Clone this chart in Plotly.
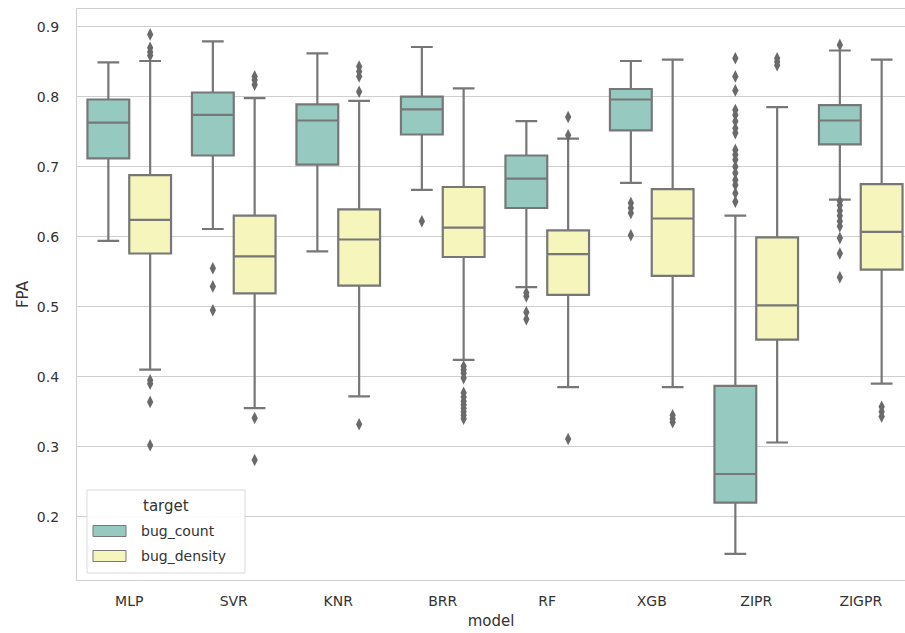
import plotly.graph_objects as go

# FPA distributions per model, split by target
models = ["MLP", "SVR", "KNR", "BRR", "RF", "XGB", "ZIPR", "ZIGPR"]

# bug_count box statistics
count_lower = [0.594, 0.611, 0.579, 0.667, 0.528, 0.677, 0.147, 0.653]
count_q1 = [0.712, 0.716, 0.703, 0.746, 0.641, 0.752, 0.220, 0.732]
count_median = [0.763, 0.774, 0.766, 0.782, 0.683, 0.796, 0.261, 0.766]
count_q3 = [0.796, 0.806, 0.789, 0.800, 0.716, 0.811, 0.387, 0.788]
count_upper = [0.849, 0.879, 0.862, 0.871, 0.765, 0.851, 0.630, 0.866]
count_outliers = [
    [],
    [0.555, 0.529, 0.495],
    [],
    [0.622],
    [0.520, 0.515, 0.492, 0.482],
    [0.648, 0.641, 0.634, 0.602],
    [0.855, 0.829, 0.809, 0.781, 0.774, 0.765, 0.755, 0.748, 0.724,
     0.717, 0.710, 0.700, 0.691, 0.681, 0.674, 0.662, 0.650],
    [0.874, 0.651, 0.645, 0.637, 0.630, 0.622, 0.615, 0.598, 0.576, 0.542],
]

# bug_density box statistics
density_lower = [0.410, 0.355, 0.372, 0.424, 0.385, 0.385, 0.306, 0.390]
density_q1 = [0.576, 0.519, 0.530, 0.571, 0.517, 0.544, 0.453, 0.553]
density_median = [0.624, 0.572, 0.596, 0.613, 0.575, 0.626, 0.502, 0.607]
density_q3 = [0.688, 0.630, 0.639, 0.671, 0.609, 0.668, 0.599, 0.675]
density_upper = [0.851, 0.798, 0.794, 0.812, 0.740, 0.853, 0.785, 0.853]
density_outliers = [
    [0.889, 0.870, 0.864, 0.859, 0.395, 0.390, 0.364, 0.302],
    [0.829, 0.824, 0.817, 0.341, 0.281],
    [0.843, 0.836, 0.829, 0.807, 0.332],
    [0.415, 0.410, 0.405, 0.398, 0.377, 0.371, 0.365, 0.360, 0.355, 0.350, 0.345, 0.340],
    [0.771, 0.745, 0.311],
    [0.345, 0.340, 0.335],
    [0.855, 0.850, 0.845],
    [0.357, 0.350, 0.343],
]

targets = ["bug_count", "bug_density"]
fill_colors = {"bug_count": "#96cac1", "bug_density": "#f5f5bc"}
line_gray = "#777777"
flier_gray = "#6a6a6a"
text_color = "#333333"
grid_color = "#cfcfcf"

series = {
    "bug_count": (count_lower, count_q1, count_median, count_q3, count_upper, count_outliers),
    "bug_density": (density_lower, density_q1, density_median, density_q3, density_upper, density_outliers),
}
offsets = {"bug_count": -0.2, "bug_density": 0.2}

fig = go.Figure()
for t in targets:
    lo, q1, med, q3, hi, outs = series[t]
    xs = [i + offsets[t] for i in range(len(models))]
    fig.add_trace(go.Box(
        x=xs, q1=q1, median=med, q3=q3, lowerfence=lo, upperfence=hi,
        width=0.4, whiskerwidth=0.52,
        fillcolor=fill_colors[t],
        line=dict(color=line_gray, width=2.2),
        boxpoints=False, name=t, showlegend=False, hoverinfo="skip",
    ))
    ox, oy = [], []
    for i, vals in enumerate(outs):
        for v in vals:
            ox.append(i + offsets[t])
            oy.append(v)
    fig.add_trace(go.Scatter(
        x=ox, y=oy, mode="markers",
        marker=dict(symbol="diamond-tall", size=9, color=flier_gray,
                    line=dict(width=0)),
        showlegend=False, hoverinfo="skip",
    ))

# legend box
shapes = [
    dict(type="rect", xref="paper", yref="paper",
         x0=(87 - 77) / 828, x1=(245 - 77) / 828,
         y0=(580 - 573) / 571, y1=(580 - 490) / 571,
         line=dict(color="#d9d9d9", width=1), fillcolor="rgba(255,255,255,0.85)",
         layer="above"),
]
annotations = [
    dict(text="target", xref="paper", yref="paper",
         x=(166 - 77) / 828, y=(580 - 506) / 571, showarrow=False,
         xanchor="center", yanchor="middle",
         font=dict(size=15, color=text_color, family="DejaVu Sans")),
]
legend_rows = [("bug_count", 531), ("bug_density", 556)]
for name, yc in legend_rows:
    shapes.append(dict(type="rect", xref="paper", yref="paper",
                       x0=(93 - 77) / 828, x1=(126 - 77) / 828,
                       y0=(580 - (yc + 5.5)) / 571, y1=(580 - (yc - 5.5)) / 571,
                       line=dict(color=line_gray, width=1),
                       fillcolor=fill_colors[name], layer="above"))
    annotations.append(dict(text=name, xref="paper", yref="paper",
                            x=(139 - 77) / 828, y=(580 - yc) / 571, showarrow=False,
                            xanchor="left", yanchor="middle",
                            font=dict(size=14, color=text_color, family="DejaVu Sans")))

fig.update_layout(
    width=905, height=633,
    margin=dict(l=77, r=0, t=9, b=53),
    paper_bgcolor="white", plot_bgcolor="white",
    font=dict(family="DejaVu Sans", size=14, color=text_color),
    showlegend=False,
    shapes=shapes, annotations=annotations,
    xaxis=dict(
        range=[-0.5, 7.5 - 8 / 104.5], tickmode="array",
        tickvals=list(range(len(models))), ticktext=models,
        showgrid=False, zeroline=False,
        showline=True, linecolor=grid_color, linewidth=1.2, mirror=True,
        ticks="outside", ticklen=8, tickcolor="rgba(0,0,0,0)",
        tickfont=dict(size=14, color=text_color),
        title=dict(text="model", font=dict(size=15, color=text_color), standoff=7),
    ),
    yaxis=dict(
        range=[0.1096, 0.9253], tickmode="array",
        tickvals=[0.2, 0.3, 0.4, 0.5, 0.6, 0.7, 0.8, 0.9],
        ticktext=["0.2", "0.3", "0.4", "0.5", "0.6", "0.7", "0.8", "0.9"],
        showgrid=True, gridcolor=grid_color, gridwidth=1.2, zeroline=False,
        showline=True, linecolor=grid_color, linewidth=1.2, mirror=True,
        ticks="outside", ticklen=14, tickcolor="rgba(0,0,0,0)",
        tickfont=dict(size=14, color=text_color),
        title=dict(text="FPA", font=dict(size=15, color=text_color), standoff=4),
    ),
)

fig.write_html("out.html")
